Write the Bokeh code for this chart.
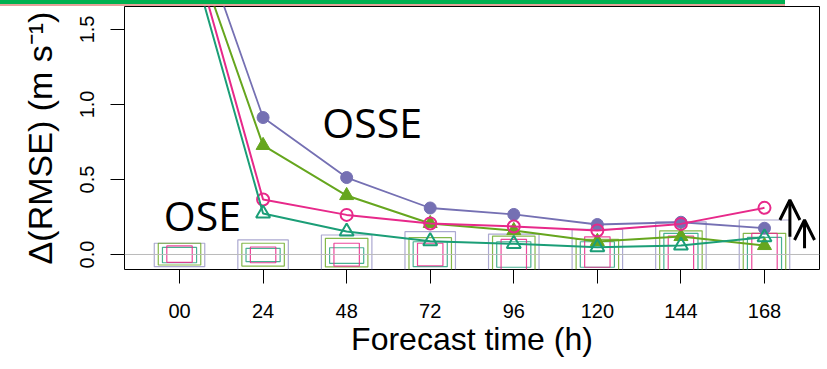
from bokeh.plotting import figure
from bokeh.models import (Range1d, FixedTicker, Span, Arrow, OpenHead, Div,
                          ColumnDataSource)
from bokeh.layouts import column
from bokeh.core.properties import value
from bokeh.embed import file_html
from bokeh.resources import INLINE

# ---------------- data ----------------
hours = [0, 24, 48, 72, 96, 120, 144, 168]
tick_labels = ["00", "24", "48", "72", "96", "120", "144", "168"]

osse_purple = [2.50, 0.913, 0.513, 0.310, 0.267, 0.200, 0.215, 0.175]
osse_green = [2.32, 0.727, 0.393, 0.207, 0.160, 0.087, 0.120, 0.060]
ose_pink = [2.35, 0.367, 0.264, 0.207, 0.187, 0.160, 0.204, 0.311]
ose_teal = [2.25, 0.273, 0.153, 0.089, 0.071, 0.049, 0.060, 0.115]

box_purple_hi = [0.075, 0.097, 0.130, 0.152, 0.136, 0.168, 0.218, 0.230]
box_purple_lo = [-0.081, -0.110, -0.120, -0.150, -0.150, -0.150, -0.200, -0.200]
box_green_hi = [0.075, 0.075, 0.108, 0.112, 0.123, 0.101, 0.158, 0.141]
box_green_lo = [-0.070, -0.077, -0.083, -0.120, -0.130, -0.130, -0.160, -0.150]
box_teal_hi = [0.048, 0.041, 0.045, 0.085, 0.085, 0.085, 0.141, 0.114]
box_teal_lo = [-0.055, -0.048, -0.059, -0.081, -0.085, -0.085, -0.150, -0.130]
box_pink_hi = [0.057, 0.050, 0.075, 0.075, 0.101, 0.118, 0.123, 0.141]
box_pink_lo = [-0.052, -0.055, -0.077, -0.075, -0.110, -0.085, -0.130, -0.150]

arrow_x = [175.3, 179.5]
arrow_start = [0.118, 0.041]
arrow_end = [0.363, 0.230]

label_texts = ["OSSE", "OSE"]
label_x = [41.0, -4.5]
label_y = [0.885, 0.262]

y_ticks = [0.0, 0.5, 1.0, 1.5]

# ---------------- styles ----------------
PURPLE = "#7570b3"
GREEN = "#66a61e"
PINK = "#e7298a"
TEAL = "#1b9e77"

p = figure(width=827, height=363, output_backend="svg", toolbar_location=None,
           x_range=Range1d(-15.8, 183.8), y_range=Range1d(-0.1, 1.653),
           min_border_left=124, min_border_right=8, min_border_top=0,
           min_border_bottom=100)
p.grid.visible = False
p.outline_line_color = "black"
p.outline_line_width = 1
p.background_fill_color = "white"
p.border_fill_color = "white"

# zero line
p.add_layout(Span(location=0, dimension="width", line_color="#bbbbbb", line_width=1))

# boxes
box_sets = [
    (box_purple_lo, box_purple_hi, PURPLE, 14.5, 0.6),
    (box_green_lo, box_green_hi, GREEN, 12.2, 0.8),
    (box_teal_lo, box_teal_hi, TEAL, 9.8, 0.8),
    (box_pink_lo, box_pink_hi, PINK, 7.3, 0.85),
]
for lo, hi, col, w, a in box_sets:
    src = ColumnDataSource(dict(left=[h - w / 2 for h in hours],
                                right=[h + w / 2 for h in hours],
                                bottom=lo, top=hi))
    p.quad(left="left", right="right", bottom="bottom", top="top", source=src,
           fill_color=None, line_color=col, line_alpha=a, line_width=1.2)

# series
p.line(hours, osse_purple, line_color=PURPLE, line_width=1.8)
p.scatter(hours, osse_purple, marker="circle", size=12, fill_color=PURPLE, line_color=PURPLE)

p.line(hours, osse_green, line_color=GREEN, line_width=2)
p.scatter(hours, osse_green, marker="triangle", size=14, fill_color=GREEN, line_color=GREEN)

p.line(hours, ose_pink, line_color=PINK, line_width=2)
p.scatter(hours, ose_pink, marker="circle", size=12, fill_color="white", fill_alpha=0,
          line_color=PINK, line_width=2)

p.line(hours, ose_teal, line_color=TEAL, line_width=2)
p.scatter(hours, ose_teal, marker="triangle", size=14, fill_color="white", fill_alpha=0,
          line_color=TEAL, line_width=2)

# arrows
for ax, a0, a1 in zip(arrow_x, arrow_start, arrow_end):
    p.add_layout(Arrow(x_start=ax, y_start=a0, x_end=ax, y_end=a1,
                       line_color="black", line_width=3,
                       end=OpenHead(size=20, line_color="black", line_width=3)))

# text labels
p.text(x=label_x, y=label_y, text=label_texts, text_font=value("Open Sans"),
       text_font_size="41px", text_color="black", text_baseline="alphabetic",
       text_align="left")

# axes
xa = p.xaxis[0]
xa.ticker = FixedTicker(ticks=hours)
xa.major_label_overrides = {h: t for h, t in zip(hours, tick_labels)}
xa.axis_label = "Forecast time (h)"
xa.axis_label_text_font = "Liberation Sans"
xa.axis_label_text_font_size = "32px"
xa.axis_label_text_font_style = "normal"
xa.axis_label_text_color = "black"
xa.axis_label_standoff = 0
xa.major_label_text_font = "Liberation Sans"
xa.major_label_text_font_size = "20px"
xa.major_label_text_color = "black"
xa.major_label_standoff = 20
xa.major_tick_out = 14
xa.major_tick_in = 0
xa.minor_tick_out = 0
xa.minor_tick_in = 0
xa.axis_line_color = None
xa.major_tick_line_color = "black"

ya = p.yaxis[0]
ya.ticker = FixedTicker(ticks=y_ticks)
ya.major_label_overrides = {t: f"{t:.1f}" for t in y_ticks}
ya.major_label_orientation = "vertical"
ya.axis_label = "\u0394(RMSE) (m s\u207b\u00b9)"
ya.axis_label_text_font = "Liberation Sans"
ya.axis_label_text_font_size = "34px"
ya.axis_label_text_font_style = "normal"
ya.axis_label_text_color = "black"
ya.axis_label_standoff = 19
ya.major_label_text_font = "Liberation Sans"
ya.major_label_text_font_size = "20px"
ya.major_label_text_color = "black"
ya.major_label_standoff = 16
ya.major_tick_out = 14
ya.major_tick_in = 0
ya.minor_tick_out = 0
ya.minor_tick_in = 0
ya.axis_line_color = None
ya.major_tick_line_color = "black"

# top banner from the surrounding figure
banner = Div(text="", width=785, height=6, margin=(0, 0, 0, 0),
             styles={"background": "linear-gradient(to bottom, #00b050 0px, #00b050 4px, "
                                   "#e6a19a 4px, #e6a19a 6px)",
                     "width": "785px", "height": "6px", "padding": "0", "margin": "0"})

layout = column(banner, p, spacing=0)
open("out.html", "w").write(file_html(layout, INLINE))
